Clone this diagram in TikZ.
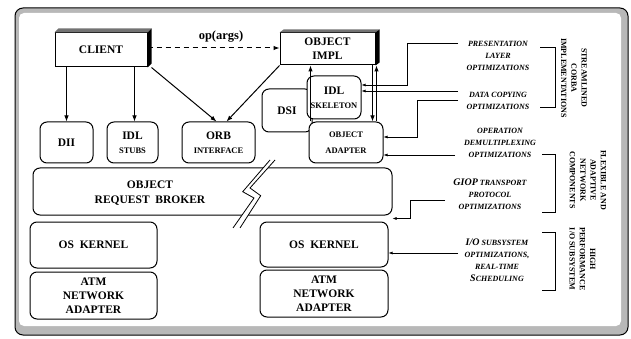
\documentclass[tikz,border=0pt]{standalone}
\usepackage{fontspec}
\setmainfont{Liberation Serif}
\usetikzlibrary{arrows.meta}

\tikzset{
  box/.style={draw, line width=1pt, rounded corners=7pt, fill=white, inner sep=0pt,
    align=center, font=\bfseries\fontsize{11.5}{14}\selectfont},
  flatbox/.style={box, rounded corners=0pt},
  boxtext/.style={align=center, font=\bfseries\fontsize{11.5}{15}\selectfont},
  flow/.style={line width=1pt, -{Latex[length=6pt,width=4.5pt]}},
  feed/.style={line width=0.6pt, -{Latex[length=4pt,width=3pt]}},
  opt/.style={align=center, font=\bfseries\itshape\fontsize{8}{12}\selectfont},
  area/.style={align=center, rotate=-90, font=\bfseries\fontsize{8}{10.3}\selectfont},
  brk/.style={line width=1pt},
}
\newcommand{\sm}{\fontsize{8.5}{10}\selectfont}
\newcommand{\bg}{\fontsize{10}{12}\selectfont}

\begin{document}
\begin{tikzpicture}[x=1pt, y=-1pt]
\useasboundingbox (0,0) rectangle (631,339);
% frame
\draw[line width=1pt, fill=black!28, rounded corners=8pt] (15,8) rectangle (628,335);
\fill[white, rounded corners=5pt] (19,13) rectangle (621,326);

% client and servant
\node[flatbox, minimum width=92, minimum height=34] (client) at (101,50) {CLIENT};
\fill[black!55] (client.north west) -- ++(4,-4) -- ([shift={(4,-4)}]client.north east) -- (client.north east) -- cycle;
\fill[black] (client.north east) -- ++(4,-4) -- ([shift={(4,-4)}]client.south east) -- (client.south east) -- cycle;
\node[flatbox, minimum width=95, minimum height=32] (impl) at (327.5,49) {OBJECT\\IMPL};
\fill[black!55] (impl.north west) -- ++(4,-3) -- ([shift={(4,-3)}]impl.north east) -- (impl.north east) -- cycle;
\fill[black] (impl.north east) -- ++(4,-3) -- ([shift={(4,-3)}]impl.south east) -- (impl.south east) -- cycle;

% interfaces
\node[box, minimum width=53, minimum height=41] (dii) at (66.5,142.5) {DII};
\node[box, minimum width=51, minimum height=41] (stubs) at (132.5,142.5) {IDL\\{\sm STUBS}};
\node[box, minimum width=73, minimum height=41] (orbi) at (218.5,142.5) {ORB\\{\sm INTERFACE}};
\node[box, minimum width=50, minimum height=43] (dsi) at (287,110.5) {DSI};
\node[box, minimum width=54, minimum height=43] (skel) at (334,97.5) {IDL\\{\sm SKELETON}};
\node[box, minimum width=74, minimum height=41] (oa) at (346,142.5) {\sm OBJECT\\[2pt]\sm ADAPTER};

% core
\node[box, minimum width=359, minimum height=47] (orb) at (212.5,191.5) {};
\node[boxtext] (orbtext) at (150,193) {OBJECT\\REQUEST~~BROKER};
\fill[white] (270,160) -- (242.7,191.7) -- (254,198) -- (233,228) -- (240,228) -- (260.7,195.7) -- (250,188) -- (275,160) -- cycle;
\draw[line width=0.8pt] (270,160) -- (242.7,191.7) -- (254,198) -- (233,228);
\draw[line width=0.8pt] (275,160) -- (250,188) -- (260.7,195.7) -- (240,228);

\node[box, minimum width=127, minimum height=46] (osl) at (93.5,245) {OS~~KERNEL};
\node[box, minimum width=127, minimum height=47] (atml) at (93.5,295.5) {ATM\\NETWORK\\ADAPTER};
\node[box, minimum width=128, minimum height=45] (osr) at (324,244.5) {OS~~KERNEL};
\node[box, minimum width=128, minimum height=47] (atmr) at (324,293.5) {ATM\\NETWORK\\ADAPTER};

% invocation paths
\node[boxtext, font=\bfseries\fontsize{12.5}{14}\selectfont] (op) at (221,37) {op(args)};
\draw[flow, dashed, dash pattern=on 5pt off 4pt] ([yshift=2pt]client.east) -- ([yshift=1pt]impl.west);
\draw[flow] (dii.north |- client.south) -- (dii.north);
\draw[flow] ([xshift=2pt]stubs.north |- client.south) -- ([xshift=2pt]stubs.north);
\draw[flow] ([xshift=4pt]client.south east) -- ([xshift=-2pt]orbi.north);
\draw[flow] (impl.south west) -- ([xshift=8pt]orbi.north);
\draw[flow] ([xshift=-3pt]impl.south east) -- ([xshift=-3pt]impl.south east |- oa.north);
\draw[flow] ([xshift=1pt]impl.south east |- oa.north) -- ([xshift=1pt]impl.south east);
\draw[flow] ([xshift=31pt]impl.south west |- oa.north) -- ([xshift=31pt]impl.south west);

% optimizations
\node[opt] (presopt) at (498,56) {PRESENTATION\\LAYER\\OPTIMIZATIONS};
\node[opt] (copyopt) at (498,101) {DATA COPYING\\OPTIMIZATIONS};
\node[opt] (demuxopt) at (500,143) {OPERATION\\DEMULTIPLEXING\\OPTIMIZATIONS};
\node[opt] (giopopt) at (490,194) {{\bg GIOP} TRANSPORT\\PROTOCOL\\OPTIMIZATIONS};
\node[opt] (ioopt) at (497,260) {{\bg I/O} SUBSYSTEM\\OPTIMIZATIONS,\\REAL-TIME\\{\bg S}CHEDULING};

\coordinate (p1) at (458,43);
\coordinate (p2) at (458,91);
\coordinate (p3) at (458,100);
\coordinate (p4) at (455,155);
\coordinate (p5) at (445,200);
\coordinate (p6) at (458,253);
\draw[feed] (p1) -- (407,43) |- (skel.east |- 0,85);
\draw[feed] (p2) -- (skel.east |- p2);
\draw[feed] (p3) -- (417,100) |- (oa.east |- 0,137);
\draw[feed] (p4) -- (oa.east |- p4);
\draw[feed] (p5) -- (410,200) |- ([yshift=-3pt]orb.south east);
\draw[feed] (p6) -- (osr.east |- p6);

% brackets
\draw[brk] (540,48) -- (555,48) -- (555,108) -- (540,108);
\draw[brk] (542,155) -- (555,155) -- (555,212) -- (542,212);
\draw[brk] (542,232) -- (555,232) -- (555,290) -- (542,290);
\node[area] (streamlined) at (574,78) {STREAMLINED\\CORBA\\IMPLEMENTATIONS};
\node[area] (flexible) at (588,180) {FLEXIBLE AND\\ADAPTIVE\\NETWORK\\COMPONENTS};
\node[area] (highperf) at (582.5,259) {HIGH\\PERFORMANCE\\I/O SUBSYSTEM};
\end{tikzpicture}
\end{document}
